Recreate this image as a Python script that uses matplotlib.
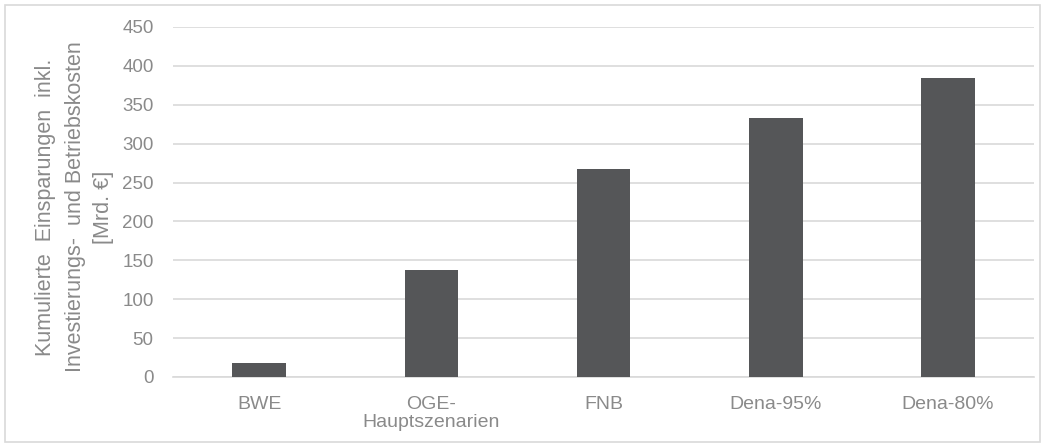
import matplotlib
matplotlib.use("Agg")
import matplotlib.pyplot as plt
from matplotlib.patches import Rectangle

plt.rcParams['font.family'] = ['Liberation Sans', 'DejaVu Sans']

# Szenarien und kumulierte Einsparungen in Mrd. EUR
szenarien = ["BWE", "OGE-\nHauptszenarien", "FNB", "Dena-95%", "Dena-80%"]
einsparungen = [18, 138, 267, 333, 385]
y_ticks = [0, 50, 100, 150, 200, 250, 300, 350, 400, 450]

text_color = "#8a8a8a"
bar_color = "#555658"
grid_color = "#d9d9d9"

fig = plt.figure(figsize=(10.45, 4.47), dpi=100)
ax = fig.add_axes([0.1656, 0.1566, 0.824, 0.783])

x = range(len(szenarien))
ax.bar(x, einsparungen, width=0.31, color=bar_color, zorder=3)

ax.set_xlim(-0.5, len(szenarien) - 0.5)
ax.set_ylim(0, 450)
ax.set_yticks(y_ticks)
ax.set_xticks(list(x))
ax.set_xticklabels(szenarien, fontsize=14, color=text_color, linespacing=1.05)
ax.tick_params(axis='y', labelsize=13.5, labelcolor=text_color, length=0, pad=14)
ax.tick_params(axis='x', length=0, pad=14)

ax.grid(axis='y', color=grid_color, linewidth=1.2, zorder=0)
for side in ["top", "right", "left"]:
    ax.spines[side].set_visible(False)
ax.spines["bottom"].set_color(grid_color)
ax.spines["bottom"].set_linewidth(1.2)

# Achsentitel, dreizeilig und zentriert
fig.text(75 / 1045, 1 - 207 / 447,
         "Kumulierte  Einsparungen  inkl.\nInvestierungs-  und Betriebskosten\n[Mrd. €]",
         rotation=90, ha="center", va="center", multialignment="center",
         fontsize=15.5, color=text_color, linespacing=1.5)

# heller Rahmen um die gesamte Grafik
fig.patches.append(Rectangle((0.005, 0.012), 0.99, 0.976, transform=fig.transFigure,
                             fill=False, edgecolor="#d9d9d9", linewidth=1.2))

fig.savefig("out.png", dpi=100)
